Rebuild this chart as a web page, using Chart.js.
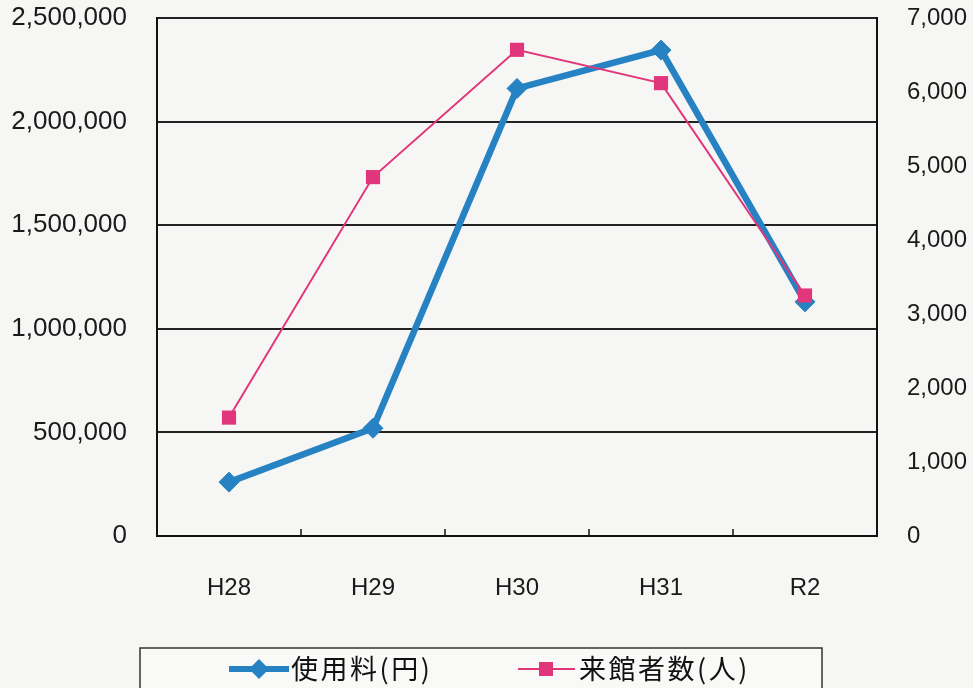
<!DOCTYPE html>
<html><head><meta charset="utf-8">
<script src="https://cdn.jsdelivr.net/npm/chart.js@4/dist/chart.umd.min.js"></script>
<style>
html,body{margin:0;padding:0;background:#f6f6f4;}
#wrap{position:relative;width:973px;height:688px;}
</style></head>
<body><div id="wrap"><canvas id="c" width="973" height="688"></canvas></div>
<script>
const categories = ['H28','H29','H30','H31','R2'];
const feeLabel = '使用料(円)';
const feeValues = [260000, 520000, 2160000, 2345000, 1130000];
const visitorLabel = '来館者数(人)';
const visitorValues = [1600, 4850, 6570, 6120, 3250];
const leftTicks = [0, 500000, 1000000, 1500000, 2000000, 2500000];
const rightTicks = [0,1000,2000,3000,4000,5000,6000,7000];

const BLUE = '#2782c3';
const PINK = '#e2367c';
const FAM = '"Liberation Sans", Arial, sans-serif';

const insideTicks = {
  id:'insideTicks',
  afterDatasetsDraw(chart){
    const ctx = chart.ctx, x = chart.scales.x, a = chart.chartArea;
    ctx.save(); ctx.strokeStyle='#111'; ctx.lineWidth=1.5;
    for(let i=1;i<categories.length;i++){
      const px = (x.getPixelForValue(i-1)+x.getPixelForValue(i))/2;
      ctx.beginPath(); ctx.moveTo(px,a.bottom); ctx.lineTo(px,a.bottom-7); ctx.stroke();
    }
    ctx.restore();
  }
};

const customLegend = {
  id:'customLegend',
  afterDraw(chart){
    const ctx = chart.ctx;
    ctx.save();
    ctx.fillStyle='#f9f9f8';
    ctx.fillRect(140,648,682,50);
    ctx.strokeStyle='#333'; ctx.lineWidth=1.5;
    ctx.strokeRect(140,648,682,50);
    const cy = 669;
    ctx.font = '27px "Noto Sans CJK JP", sans-serif';
    ctx.textBaseline='middle';
    try{ ctx.letterSpacing='2.5px'; }catch(e){}
    const d0 = chart.data.datasets[0], d1 = chart.data.datasets[1];
    ctx.strokeStyle=d0.borderColor; ctx.lineWidth=6;
    ctx.beginPath(); ctx.moveTo(229,cy); ctx.lineTo(289,cy); ctx.stroke();
    ctx.fillStyle=d0.borderColor;
    ctx.beginPath(); ctx.moveTo(259,cy-10); ctx.lineTo(269,cy); ctx.lineTo(259,cy+10); ctx.lineTo(249,cy); ctx.closePath(); ctx.fill();
    ctx.fillStyle='#111'; ctx.fillText(d0.label,291,cy);
    ctx.strokeStyle=d1.borderColor; ctx.lineWidth=2;
    ctx.beginPath(); ctx.moveTo(518,cy); ctx.lineTo(575,cy); ctx.stroke();
    ctx.fillStyle=d1.borderColor; ctx.fillRect(539,cy-7,14,14);
    ctx.fillStyle='#111'; ctx.fillText(d1.label,579,cy);
    ctx.restore();
  }
};

new Chart(document.getElementById('c'), {
  type:'line',
  data:{
    labels:categories,
    datasets:[
      {label:feeLabel, data:feeValues, yAxisID:'y', borderColor:BLUE, backgroundColor:BLUE,
       borderWidth:6.5, pointStyle:'rectRot', pointRadius:10, pointBorderWidth:1, pointBorderColor:BLUE, tension:0, order:2},
      {label:visitorLabel, data:visitorValues, yAxisID:'y1', borderColor:PINK, backgroundColor:PINK,
       borderWidth:2, pointStyle:'rect', pointRadius:10, pointBorderWidth:0, tension:0, order:1}
    ]
  },
  options:{
    responsive:false, animation:false,
    layout:{padding:{top:18,left:0,right:0,bottom:0}},
    plugins:{legend:{display:false}, tooltip:{enabled:false}},
    scales:{
      x:{
        offset:true,
        grid:{display:false},
        border:{display:true,color:'#111',width:2},
        ticks:{font:{family:FAM,size:24},color:'#1a1a1a',padding:30},
        afterFit(s){ s.height = 152; s.paddingLeft=0; s.paddingRight=0; }
      },
      y:{
        position:'left', min:0, max:2500000,
        afterBuildTicks(s){ s.ticks = leftTicks.map(v=>({value:v})); },
        grid:{color:'#222',lineWidth:2,drawTicks:false},
        border:{display:true,color:'#111',width:2},
        ticks:{font:{family:FAM,size:26},color:'#1a1a1a',padding:30,callback:v=>v.toLocaleString('en-US')},
        afterFit(s){ s.width = 157; s.paddingTop=0; s.paddingBottom=0; }
      },
      y1:{
        position:'right', min:0, max:7000,
        afterBuildTicks(s){ s.ticks = rightTicks.map(v=>({value:v})); },
        grid:{display:false,drawTicks:false},
        border:{display:true,color:'#111',width:2},
        ticks:{font:{family:FAM,size:24},color:'#1a1a1a',padding:30,callback:v=>v.toLocaleString('en-US')},
        afterFit(s){ s.width = 96; s.paddingTop=0; s.paddingBottom=0; }
      }
    }
  },
  plugins:[insideTicks, customLegend]
});
</script></body></html>
